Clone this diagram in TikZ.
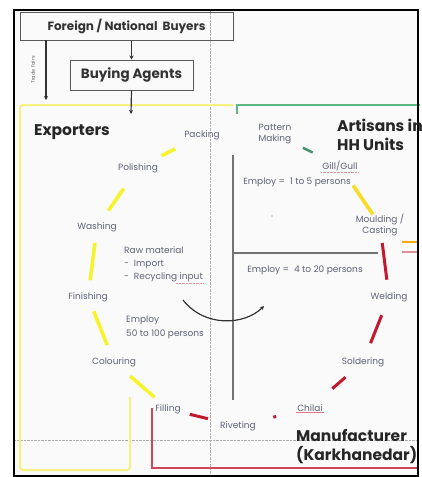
\documentclass[tikz,border=0pt]{standalone}
\usepackage{fontspec}
\setmainfont{Poppins}
\usetikzlibrary{calc,arrows.meta}
\definecolor{expyellow}{RGB}{248,242,40}
\definecolor{boxyellow}{RGB}{246,242,130}
\definecolor{artgreen}{RGB}{90,185,130}
\definecolor{mfgred}{RGB}{195,25,45}
\definecolor{steptext}{RGB}{95,98,120}
\definecolor{guidegray}{RGB}{175,175,175}

\begin{document}
\begin{tikzpicture}[x=1pt,y=-1pt,
    steplabel/.style={font=\fontsize{9}{11}\selectfont, text=steptext, inner sep=1pt, align=center},
    headbox/.style={draw=black!65, line width=1pt, font=\bfseries\fontsize{12}{14}\selectfont, text=black!80},
    title/.style={font=\bfseries\fontsize{15.5}{19}\selectfont, text=black!85, align=left, anchor=west, inner sep=0pt},
    ydash/.style={expyellow, line width=3.5pt},
    rdash/.style={mfgred, line width=3pt},
    gdash/.style={artgreen!80!black, line width=2.5pt},
    flow/.style={-{Stealth[length=4pt,width=4pt]}, line width=1.2pt, black!80}]
    \useasboundingbox (0,0) rectangle (422,477);
    \fill[white] (0,0) rectangle (422,477);
    \fill[black!2] (14,10) rectangle (418,476);
    % guide lines
    \draw[guidegray, densely dotted] (210,10) -- (210,477);
    \draw[guidegray, densely dotted] (14,440) -- (418,440);
    % region outlines
    \draw[boxyellow, line width=2pt, rounded corners=3pt] (233,105) -- (20,105) -- (20,470) -- (130,470) -- (130,397);
    \draw[artgreen, line width=1.5pt] (237,114) -- (237,105) -- (420,105);
    \draw[mfgred!80, line width=1.5pt] (152,408) -- (152,468) -- (418,468);
    \draw[orange!70!yellow, line width=1.5pt] (402,242) -- (418,242);
    \draw[mfgred!50, line width=1.5pt] (402,252) -- (418,252);
    \draw[black!55, line width=1.2pt] (233,155) -- (233,400);
    \draw[black!55, line width=1.2pt] (233,253) -- (378,253);
    \draw[line width=1.5pt] (14,10) rectangle (418,476);

    % buyers and agents
    \node[headbox, minimum width=213pt, minimum height=28pt] (buyers) at (126.5,26) {Foreign / National~~Buyers};
    \node[headbox, minimum width=123pt, minimum height=30pt, font=\bfseries\fontsize{13.5}{15}\selectfont] (agents) at (131.5,75) {Buying Agents};
    \coordinate (fairtop) at (46,40);
    \coordinate (fairend) at (46,100);
    \coordinate (expin) at (131,114);
    \draw[flow] (agents.north |- buyers.south) -- (agents.north);
    \draw[flow] (agents.south) -- (expin);
    \draw[flow] (fairtop) -- (fairend);
    \node[rotate=90, font=\fontsize{5}{6}\selectfont, text=black!60] (fairs) at (33,70) {Trade Fairs};

    % exporters
    \node[title] (exporters) at (34,132) {Exporters};
    \node[steplabel] (packing) at (202,135) {Packing};
    \node[steplabel] (polishing) at (138,168) {Polishing};
    \node[steplabel] (washing) at (97,227) {Washing};
    \node[steplabel] (finishing) at (88,297) {Finishing};
    \node[steplabel] (colouring) at (114,362) {Colouring};
    \node[steplabel] (filling) at (168,409) {Filling};
    \node[steplabel, font=\fontsize{9}{13}\selectfont, align=left, anchor=west] (raw) at (123,264) {Raw material\\- ~Import\\- ~Recycling input};
    \node[steplabel, font=\fontsize{9}{14}\selectfont, align=left, anchor=west] (employbig) at (125,327) {Employ\\50 to 100 persons};
    \draw[mfgred!45, thin, densely dotted] ($(raw.south east)+(-28,0)$) -- (raw.south east);

    % artisans
    \node[title] (artisans) at (337,135) {Artisans in\\HH Units};
    \node[steplabel, align=left] (pattern) at (275,134) {Pattern\\Making};
    \node[steplabel] (gill) at (340,166) {Gill/Gull};
    \node[steplabel] (moulding) at (380,225) {Moulding /\\Casting};
    \node[steplabel] (employsmall) at (297,182) {Employ =~~1 to 5 persons};
    \node[steplabel] (employmid) at (305,270) {Employ = ~4 to 20 persons};
    \draw[mfgred!45, thin, densely dotted] (gill.south west) -- (gill.south east);
    \fill[black!30] (272,216) circle (0.8pt);

    % manufacturer
    \node[title] (manufacturer) at (296,447) {Manufacturer\\(Karkhanedar)};
    \node[steplabel] (welding) at (389,297) {Welding};
    \node[steplabel] (soldering) at (363,362) {Soldering};
    \node[steplabel] (chilai) at (310,408) {Chilai};
    \node[steplabel] (riveting) at (238,426) {Riveting};
    \draw[mfgred!60, thin] (chilai.south west) -- (chilai.south east);

    % process ring
    \draw[ydash] ($(packing)!0.42!(polishing)$) -- ($(packing)!0.63!(polishing)$);
    \draw[ydash] ($(polishing)!0.35!(washing)$) -- ($(polishing)!0.72!(washing)$);
    \draw[ydash] ($(washing)!0.23!(finishing)$) -- ($(washing)!0.76!(finishing)$);
    \draw[ydash] ($(finishing)!0.22!(colouring)$) -- ($(finishing)!0.74!(colouring)$);
    \draw[ydash] ($(colouring)!0.3!(filling)$) -- ($(colouring)!0.75!(filling)$);
    \draw[rdash] ($(filling)!0.31!(riveting)$) -- ($(filling)!0.57!(riveting)$);
    \draw[rdash] ($(riveting)!0.49!(chilai)$) -- ($(riveting)!0.53!(chilai)$);
    \draw[rdash] ($(chilai)!0.42!(soldering)$) -- ($(chilai)!0.67!(soldering)$);
    \draw[rdash] ($(soldering)!0.29!(welding)$) -- ($(soldering)!0.72!(welding)$);
    \draw[rdash] ($(welding)!0.24!(moulding)$) -- ($(welding)!0.75!(moulding)$);
    \draw[ydash, expyellow!80!orange] ($(gill)!0.33!(moulding)$) -- ($(gill)!0.82!(moulding)$);
    \draw[gdash] ($(pattern)!0.43!(gill)$) -- ($(pattern)!0.58!(gill)$);

    % material flow
    \coordinate (flowa) at (183,300);
    \coordinate (flowb) at (264,306);
    \draw[flow] (flowa) .. controls (205,328) and (245,325) .. (flowb);
\end{tikzpicture}
\end{document}
